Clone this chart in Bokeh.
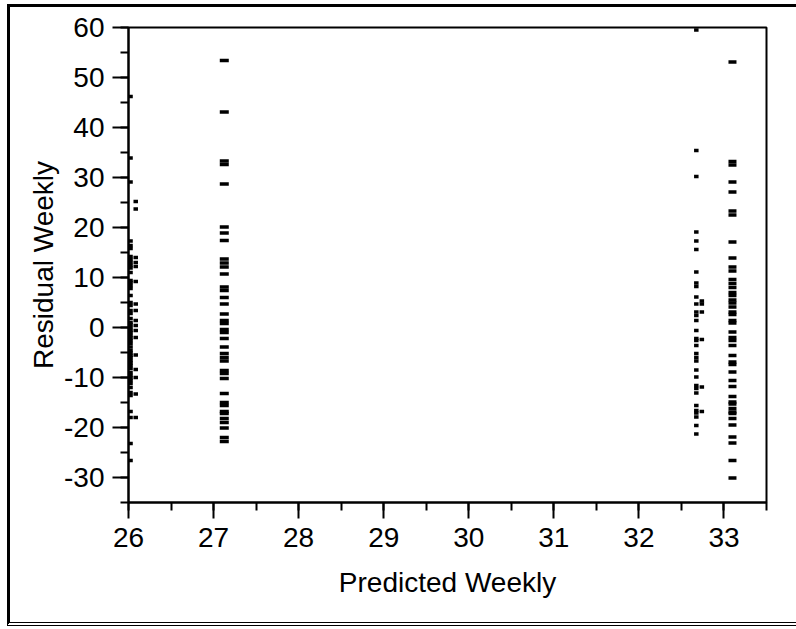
from bokeh.plotting import figure
from bokeh.models import ColumnDataSource, SingleIntervalTicker, Range1d, PrintfTickFormatter
from bokeh.layouts import column
from bokeh.embed import file_html
from bokeh.resources import INLINE

# ---- data ----
# cluster 1: predicted ~26.02
c1_x = 26.024
c1_y = [46.2, 33.9, 29.1, 17.3, 16.4, 15.8, 14.2, 13.6, 13.0, 12.4, 11.9, 11.0, 9.4, 9.0,
        8.4, 7.8, 6.4, 5.0, 4.4, 3.4, 2.8, 1.8, 1.0, 0.6, 0.0, -0.6, -1.0, -1.6, -2.1, -2.6,
        -3.2, -3.9, -4.6, -5.1, -5.6, -6.0, -6.6, -7.1, -7.6, -8.2, -9.0, -9.6, -10.1,
        -10.6, -11.2, -12.0, -13.0, -13.6, -16.8, -18.0, -23.2, -26.6]
c1b_x = 26.085
c1b_y = [25.2, 23.7, 14.0, 13.0, 12.2, 9.2, 4.7, 3.4, 1.4, 0.4, -0.6, -2.0, -5.5, -8.4,
         -10.0, -13.3, -18.0]
# cluster 2: predicted ~27.13
c2_x = 27.126
c2_y = [53.4, 43.1, 33.3, 32.6, 28.7, 20.1, 18.9, 17.4, 13.7, 12.9, 12.1, 10.7, 8.1, 7.4,
        6.0, 4.7, 2.7, 1.4, 0.8, -0.4, -1.0, -2.2, -3.9, -5.2, -6.0, -6.7, -8.6, -9.2,
        -10.2, -13.2, -15.0, -15.6, -16.8, -17.2, -18.2, -19.0, -20.1, -22.0, -22.8]
# cluster 3: predicted ~32.68
c3_x = 32.675
c3_y = [59.5, 35.4, 30.2, 19.1, 17.3, 15.6, 11.1, 8.9, 8.2, 6.1, 4.7, 3.1, 2.4, 1.4, -0.6,
        -2.2, -2.6, -3.6, -5.2, -6.0, -6.7, -8.5, -9.9, -11.6, -12.2, -13.1, -15.6, -16.6,
        -17.1, -17.9, -19.6, -21.3]
c3b_x = 32.74
c3b_y = [5.3, 4.7, 3.1, -2.4, -11.9, -16.8]
# cluster 4: predicted ~33.10
c4_x = 33.10
c4_y = [53.1, 33.2, 32.5, 29.1, 27.1, 23.3, 22.5, 17.1, 13.9, 12.1, 11.3, 9.6, 8.8, 8.0,
        7.0, 6.4, 5.5, 4.9, 4.1, 3.1, 2.6, 1.4, 0.9, -0.9, -2.0, -2.6, -3.6, -5.6, -6.9,
        -7.4, -8.9, -10.6, -11.8, -13.8, -14.9, -15.3, -16.2, -16.9, -17.2, -18.2, -19.5,
        -21.9, -23.1, -26.6, -30.1]

x_min, x_max = 26, 33.5
y_min, y_max = -35, 60

FONT = "Liberation Sans"

p = figure(width=786, height=615,
           x_range=Range1d(x_min, x_max), y_range=Range1d(y_min, y_max),
           output_backend="svg", toolbar_location=None,
           min_border_left=118, min_border_right=30,
           min_border_top=20, min_border_bottom=120,
           x_axis_label="Predicted Weekly", y_axis_label="Residual Weekly")

p.xgrid.visible = False
p.ygrid.visible = False
p.outline_line_color = "black"
p.outline_line_width = 2
p.outline_line_alpha = 1.0

p.xaxis.ticker = SingleIntervalTicker(interval=1, num_minor_ticks=2)
p.yaxis.ticker = SingleIntervalTicker(interval=10, num_minor_ticks=2)
p.xaxis.formatter = PrintfTickFormatter(format="%d")
p.yaxis.formatter = PrintfTickFormatter(format="%d")

for ax in (p.xaxis[0], p.yaxis[0]):
    ax.axis_line_width = 2
    ax.axis_line_color = "black"
    ax.major_tick_line_width = 2
    ax.minor_tick_line_width = 2
    ax.major_tick_line_color = "black"
    ax.minor_tick_line_color = "black"
    ax.major_tick_out = 16
    ax.major_tick_in = 0
    ax.minor_tick_out = 8
    ax.minor_tick_in = 0
    ax.major_label_text_font = FONT
    ax.major_label_text_font_size = "28px"
    ax.major_label_text_color = "black"
    ax.axis_label_text_font = FONT
    ax.axis_label_text_font_size = "28px"
    ax.axis_label_text_font_style = "normal"
    ax.axis_label_text_color = "black"

p.yaxis.major_label_standoff = 8
p.yaxis.axis_label_standoff = 2
p.xaxis.major_label_standoff = 9
p.xaxis.axis_label_standoff = 17

def draw(xv, ys, w):
    src = ColumnDataSource(data=dict(x=[xv] * len(ys), y=ys))
    p.rect(x="x", y="y", width=w, height=3.5, width_units="screen",
           height_units="screen", source=src, fill_color="black", line_color=None)

draw(c1_x, c1_y, 4.5)
draw(c1b_x, c1b_y, 4.5)
draw(c2_x, c2_y, 9)
draw(c3_x, c3_y, 4.5)
draw(c3b_x, c3b_y, 4.5)
draw(c4_x, c4_y, 8)

layout = column(p, styles={"border-top": "3px solid black",
                           "border-left": "3px solid black",
                           "border-bottom": "4px double black",
                           "margin-top": "4px",
                           "margin-left": "7px"})

open("out.html", "w").write(file_html(layout, INLINE))
